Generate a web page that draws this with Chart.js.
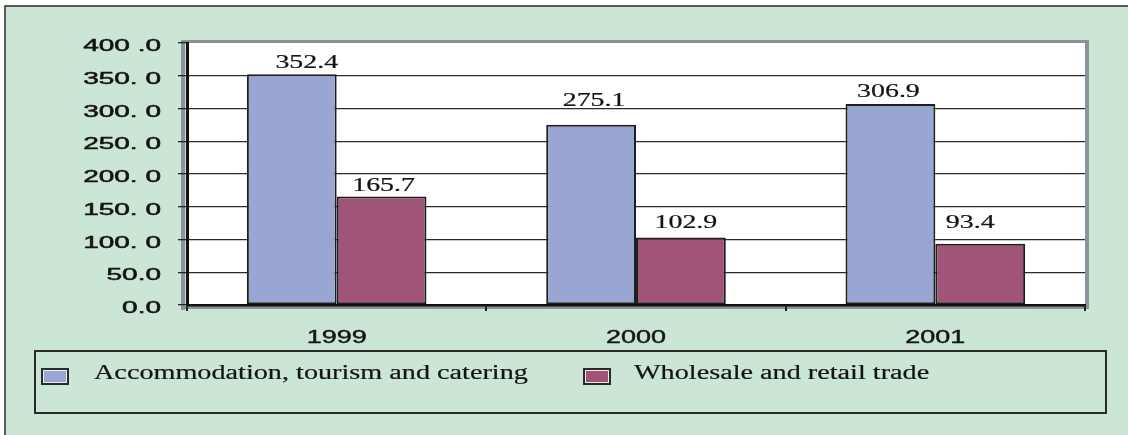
<!DOCTYPE html>
<html>
<head>
<meta charset="utf-8">
<title>Accommodation, tourism and catering vs. wholesale and retail trade</title>
<script src="https://cdn.jsdelivr.net/npm/chart.js@4.4.1/dist/chart.umd.min.js"></script>
<style>
  html, body { margin: 0; padding: 0; background: #ffffff; }
  canvas { display: block; }
</style>
</head>
<body>
<canvas id="chart" width="1128" height="435"></canvas>
<script>
// Values by year
const categories = ['1999', '2000', '2001'];
const accommodation = [352.4, 275.1, 306.9];
const wholesale = [165.7, 102.9, 93.4];
const seriesNames = ['Accommodation, tourism and catering', 'Wholesale and retail trade'];
const yTickLabels = ['0.0', '50.0', '100. 0', '150. 0', '200. 0', '250. 0', '300. 0', '350. 0', '400 .0'];

// Look and feel
const GREEN = '#cce6d5';
const SHADOW = '#8a939b';
const INK = '#141414';
const BAR_COLORS = ['#99a6d3', '#a05578'];

// Value-label nudges per dataset: [dx from bar centre, baseline offset from bar top]
const labelNudge = [
  [[15, -6], [3, -19], [-2, -7]],
  [[2, -5.5], [5, -9.6], [-10, -16]]
];

// Text is drawn horizontally widened; a hairline stroke gives it a little more weight
function wideText(ctx, text, x, y, font, sx, align, weight) {
  ctx.save();
  ctx.font = font;
  ctx.fillStyle = INK;
  ctx.strokeStyle = INK;
  ctx.textBaseline = 'alphabetic';
  ctx.translate(x, y);
  ctx.scale(sx, 1);
  ctx.textAlign = align || 'center';
  ctx.fillText(text, 0, 0);
  if (weight) {
    ctx.lineWidth = weight;
    ctx.strokeText(text, 0, 0);
  }
  ctx.restore();
}

const framePlugin = {
  id: 'frame',
  beforeDraw(chart) {
    const ctx = chart.ctx;
    const a = chart.chartArea;
    ctx.save();
    ctx.fillStyle = '#ffffff';
    ctx.fillRect(0, 0, chart.width, chart.height);
    ctx.fillStyle = GREEN;
    ctx.fillRect(5, 6, chart.width - 5, chart.height - 6);
    ctx.strokeStyle = '#2a2a2a';
    ctx.lineWidth = 1.5;
    ctx.beginPath();
    ctx.moveTo(5, chart.height);
    ctx.lineTo(5, 6);
    ctx.lineTo(chart.width, 6);
    ctx.stroke();
    // plot background
    ctx.fillStyle = '#ffffff';
    ctx.fillRect(a.left, a.top, a.right - a.left, a.bottom - a.top);
    // shadowed edges of the plot box
    ctx.fillStyle = SHADOW;
    ctx.fillRect(a.left - 4, a.top - 3, a.right - a.left + 8, 3);
    ctx.fillRect(a.right, a.top - 3, 4, a.bottom - a.top + 6);
    ctx.fillRect(a.left - 6, a.top - 3, 4, a.bottom - a.top + 8);
    ctx.fillRect(a.left - 6, a.bottom + 1, a.right - a.left + 10, 3);
    ctx.restore();
  }
};

const textPlugin = {
  id: 'texts',
  afterDraw(chart) {
    const ctx = chart.ctx;
    const y = chart.scales.y;
    const x = chart.scales.x;

    // y tick labels
    y.ticks.forEach((t, i) => {
      const py = y.getPixelForValue(t.value);
      wideText(ctx, yTickLabels[i], 161, py + 8, '16px "Liberation Sans", Arial, sans-serif', 1.75, 'right', 0.5);
    });

    // category labels
    categories.forEach((c, i) => {
      wideText(ctx, c, x.getPixelForValue(i), 343, '18px "Liberation Sans", Arial, sans-serif', 1.5, 'center', 0.4);
    });

    // value labels above bars
    chart.data.datasets.forEach((ds, di) => {
      const meta = chart.getDatasetMeta(di);
      meta.data.forEach((bar, i) => {
        const n = labelNudge[di][i];
        wideText(ctx, ds.data[i].toFixed(1), bar.x + n[0], bar.y + n[1],
          '18px "Liberation Serif", "Times New Roman", serif', 1.55, 'center', 0.2);
      });
    });

    // legend
    ctx.save();
    ctx.strokeStyle = '#2a2a2a';
    ctx.lineWidth = 2;
    ctx.strokeRect(35, 351, 1071, 62);
    ctx.restore();
    const swatchX = [41, 583];
    const textX = [94, 634];
    chart.data.datasets.forEach((ds, di) => {
      const sx = swatchX[di];
      ctx.save();
      ctx.fillStyle = '#2a2a2a';
      ctx.fillRect(sx, 368, 28, 17);
      ctx.fillStyle = '#e8efe9';
      ctx.fillRect(sx + 2, 370, 24, 13);
      ctx.fillStyle = ds.backgroundColor;
      ctx.fillRect(sx + 3, 371, 22, 11);
      ctx.restore();
      wideText(ctx, ds.label, textX[di], 379, '20px "Liberation Serif", "Times New Roman", serif', 1.41, 'left', 0.2);
    });
  }
};

new Chart(document.getElementById('chart'), {
  type: 'bar',
  data: {
    labels: categories,
    datasets: [
      { label: seriesNames[0], data: accommodation, backgroundColor: BAR_COLORS[0] },
      { label: seriesNames[1], data: wholesale, backgroundColor: BAR_COLORS[1] }
    ]
  },
  options: {
    responsive: false,
    animation: false,
    devicePixelRatio: 1,
    layout: { padding: { top: 43, right: 43, left: 0, bottom: 0 } },
    datasets: {
      bar: {
        categoryPercentage: 0.6,
        barPercentage: 1.0,
        borderColor: '#1e1e1e',
        borderWidth: 2,
        borderSkipped: false
      }
    },
    plugins: {
      legend: { display: false },
      tooltip: { enabled: false },
      title: { display: false }
    },
    scales: {
      x: {
        offset: true,
        grid: {
          display: true,
          offset: true,
          drawOnChartArea: false,
          tickLength: 6,
          color: '#222222',
          lineWidth: 2
        },
        border: { display: true, color: '#111111', width: 2.5 },
        ticks: { display: false },
        afterFit(scale) { scale.height = 130; }
      },
      y: {
        min: 0,
        max: 400,
        ticks: { display: false, stepSize: 50 },
        grid: {
          color: ctx => (ctx.tick && (ctx.tick.value === 400 || ctx.tick.value === 0)) ? 'rgba(0,0,0,0)' : '#2a2a2a',
          tickColor: '#222222',
          lineWidth: 1.3,
          tickLength: 9
        },
        border: { display: true, color: '#111111', width: 3 },
        afterFit(scale) { scale.width = 187; }
      }
    }
  },
  plugins: [framePlugin, textPlugin]
});
</script>
</body>
</html>
